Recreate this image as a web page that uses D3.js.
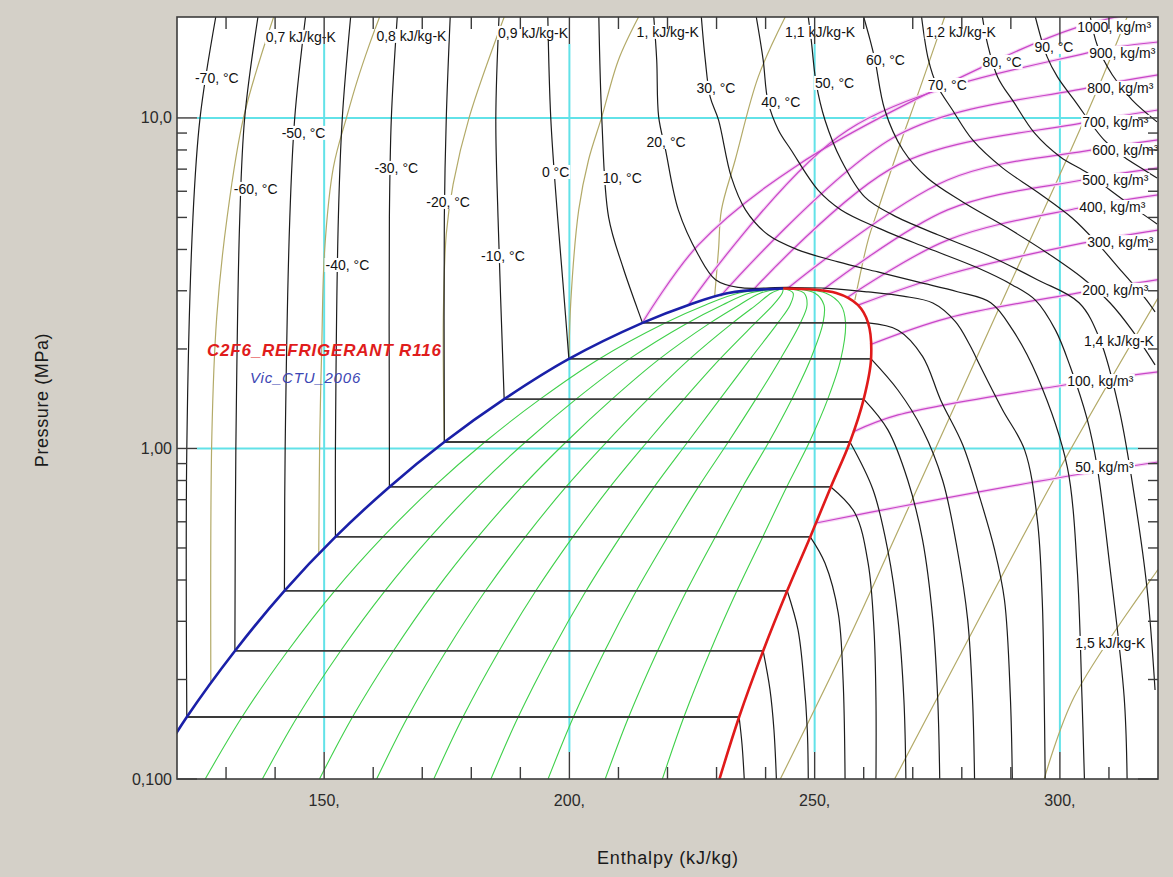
<!DOCTYPE html>
<html>
<head>
<meta charset="utf-8">
<script src="https://cdn.jsdelivr.net/npm/d3@7"></script>
<style>
  body { margin: 0; background: #ffffff; }
  svg { display: block; font-family: Arial, "Liberation Sans", sans-serif; }
</style>
</head>
<body>
<svg id="chart" width="1173" height="877"></svg>
<script>
// ---------- axes ----------
const hDomain = [120, 320];          // enthalpy, kJ/kg
const pDomain = [0.1, 20.2];         // pressure, MPa (log)
const xTicks = [150, 200, 250, 300];
const xTickLabels = ["150,", "200,", "250,", "300,"];
const xMinorTicks = [130, 140, 160, 170, 180, 190, 210, 220, 230, 240, 260, 270, 280, 290, 310];
const yTicks = [0.1, 1, 10];
const yTickLabels = ["0,100", "1,00", "10,0"];
const yMinorTicks = [0.2, 0.3, 0.4, 0.5, 0.6, 0.7, 0.8, 0.9, 2, 3, 4, 5, 6, 7, 8, 9];

// ---------- saturation dome ----------
const domeP  = [0.1, 0.154, 0.244, 0.371, 0.540, 0.765, 1.046, 1.41, 1.866, 2.398, 2.718, 2.954, 3.048];
const domeHL = [114.1, 122.0, 131.8, 141.9, 152.3, 163.3, 174.5, 186.7, 199.9, 214.9, 224.3, 232.4, 243.6];
const domeHV = [230.6, 234.6, 239.5, 244.4, 249.1, 253.3, 257.2, 260.0, 261.5, 260.9, 258.8, 254.4, 243.6];
const qualities = [0.1, 0.2, 0.3, 0.4, 0.5, 0.6, 0.7, 0.8, 0.9];

// ---------- isotherms below the critical temperature ----------
const tieT  = [-70, -60, -50, -40, -30, -20, -10, 0, 10];
const tieP  = [0.154, 0.244, 0.371, 0.540, 0.765, 1.046, 1.41, 1.866, 2.398];
const tieHL = [122.0, 131.8, 141.9, 152.3, 163.3, 174.5, 186.7, 199.9, 214.9];
const tieHV = [234.6, 239.5, 244.4, 249.1, 253.3, 257.2, 260.0, 261.5, 260.9];

const liquidBranch = [
  [[122.0, 0.154], [122.0, 1], [123.25, 5], [124.7, 10], [127.9, 20.2]],
  [[131.8, 0.244], [132.0, 1], [132.8, 5], [133.8, 10], [136.5, 20.2]],
  [[141.9, 0.371], [142.05, 1], [143.0, 5], [144.0, 10], [146.2, 20.2]],
  [[152.3, 0.540], [152.3, 1], [152.9, 5], [153.7, 10], [155.4, 20.2]],
  [[163.3, 0.765], [163.3, 1], [163.3, 5], [163.7, 10], [164.9, 20.2]],
  [[174.5, 1.046], [174.5, 5], [174.9, 10], [175.7, 20.2]],
  [[186.7, 1.41], [185.45, 5], [185.0, 10], [185.65, 20.2]],
  [[199.9, 1.866], [198.7, 3.15], [197.6, 5], [196.2, 10], [195.6, 20.2]],
  [[214.9, 2.398], [213.5, 2.74], [210.9, 3.54], [208.0, 5], [206.6, 10], [206.0, 20.2]]
];

const vaporBranch = [
  [[234.6, 0.154], [235.2, 0.127], [235.65, 0.1]],
  [[239.5, 0.244], [240.9, 0.186], [241.7, 0.141], [242.2, 0.1]],
  [[244.4, 0.371], [246.6, 0.283], [247.8, 0.199], [248.5, 0.141], [248.7, 0.1]],
  [[249.1, 0.540], [252.1, 0.450], [254.8, 0.318], [255.8, 0.199], [256.2, 0.1]],
  [[253.3, 0.765], [258.2, 0.638], [260.9, 0.45], [262.1, 0.283], [262.5, 0.173], [262.5, 0.1]],
  [[257.2, 1.046], [261.9, 0.75], [264.9, 0.493], [267.0, 0.303], [268.2, 0.173], [268.6, 0.1]],
  [[260.0, 1.41], [264.9, 1.14], [269.0, 0.80], [272.0, 0.529], [274.1, 0.303], [275.1, 0.173], [275.5, 0.1]],
  [[261.5, 1.866], [267.0, 1.50], [272.0, 1.14], [276.1, 0.80], [279.1, 0.493], [281.2, 0.303], [282.2, 0.173], [282.6, 0.1]],
  [[260.9, 2.398], [267.0, 2.28], [272.0, 1.90], [275.7, 1.40], [280.2, 1.025], [283.8, 0.70], [286.7, 0.493], [288.7, 0.348], [289.9, 0.177], [290.3, 0.1]]
];

// ---------- isotherms above the critical temperature ----------
const superT = [20, 30, 40, 50, 60, 70, 80, 90, 100];
const superBranch = [
  [[217.2, 20.2], [217.8, 14.98], [218.2, 10.07], [219.6, 8.0], [222.2, 5.27], [226.3, 3.85], [229.8, 3.24],
   [234.4, 3.07], [244.6, 3.07], [252.7, 3.05], [260.9, 2.975], [268.0, 2.89], [274.1, 2.755], [278.7, 2.42],
   [281.6, 2.06], [283.8, 1.77], [288.3, 1.31], [292.8, 0.99], [295.4, 0.608], [296.4, 0.348], [296.8, 0.177], [297.0, 0.1]],
  [[226.9, 20.2], [227.7, 14.98], [228.7, 11.58], [230.4, 9.86], [233.0, 6.63], [235.9, 5.27], [240.5, 4.43],
   [246.6, 3.99], [254.8, 3.667], [262.9, 3.42], [271.0, 3.19], [279.1, 2.98], [285.9, 2.76], [290.4, 2.28],
   [295.4, 1.65], [301.5, 0.88], [303.5, 0.438], [304.5, 0.177], [305.0, 0.1]],
  [[238.1, 20.2], [239.5, 14.98], [240.5, 11.18], [242.6, 9.2], [245.2, 8.0], [250.7, 6.05], [255.4, 5.27],
   [262.9, 4.65], [273.0, 4.04], [283.2, 3.52], [290.3, 3.125], [295.0, 2.81], [299.1, 2.28], [302.1, 1.77],
   [305.6, 1.22], [307.6, 0.88], [310.2, 0.438], [313.1, 0.177], [313.7, 0.1]],
  [[248.7, 20.2], [249.3, 17.22], [250.3, 12.76], [252.1, 9.86], [255.4, 7.46], [260.2, 5.77], [265.9, 5.09],
   [275.1, 4.43], [285.2, 3.85], [295.4, 3.24], [303.9, 2.76], [308.2, 2.13], [312.1, 1.31], [315.3, 0.70],
   [317.8, 0.373], [319.4, 0.186]],
  [[260.0, 20.2], [261.3, 17.22], [262.3, 14.98], [264.3, 10.57], [268.0, 8.0], [273.0, 6.58], [280.2, 5.57],
   [289.3, 4.65], [297.4, 3.905], [304.6, 3.28], [310.2, 2.76], [314.7, 2.28], [319.4, 1.79]],
  [[271.8, 20.2], [273.2, 14.98], [274.9, 12.58], [278.1, 10.57], [282.2, 8.58], [288.3, 7.06], [295.4, 5.97],
   [302.5, 4.98], [307.6, 4.18], [312.7, 3.42], [317.2, 2.87], [319.4, 2.59]],
  [[284.2, 20.2], [285.2, 16.86], [287.3, 13.31], [290.7, 11.10], [294.8, 9.01], [300.1, 7.62], [305.6, 6.82],
   [310.2, 6.05], [315.7, 5.27], [319.8, 4.78]],
  [[295.0, 20.2], [297.4, 15.30], [299.5, 13.31], [302.9, 11.34], [309.0, 8.58], [313.1, 7.62], [317.2, 6.96],
   [319.8, 6.58]],
  [[306.2, 20.2], [307.6, 16.63], [310.7, 13.49], [314.7, 11.34], [319.8, 9.73]]
];

// ---------- isentropes, kJ/kg-K ----------
const entropyS = [0.7, 0.8, 0.9, 1.0, 1.1, 1.2, 1.3, 1.4, 1.5];
const entropyLines = [
  [[126.9, 0.195], [127.1, 1.083], [128.1, 2.50], [130.2, 4.98], [133.6, 10.07], [139.7, 20.2]],
  [[148.9, 0.476], [149.1, 1.083], [149.5, 1.99], [150.1, 3.99], [151.9, 7.11], [154.6, 10.07], [156.8, 13.03], [159.2, 16.63], [161.3, 20.2]],
  [[174.5, 1.046], [174.3, 2.50], [174.9, 4.46], [176.3, 6.31], [179.6, 10.07], [186.7, 20.2]],
  [[199.9, 1.89], [200.3, 2.81], [201.9, 5.27], [203.9, 7.46], [206.6, 10.07], [210.0, 14.98], [214.1, 20.2]],
  [[229.6, 2.873], [230.4, 3.99], [231.0, 5.27], [233.8, 7.46], [238.5, 13.31], [244.0, 20.2]],
  [[258.2, 2.81], [260.9, 4.27], [262.9, 5.27], [267.0, 8.0], [271.0, 11.74], [275.1, 17.59], [276.5, 20.2]],
  [[243.0, 0.1], [256.8, 0.263], [268.0, 0.608], [279.1, 1.40], [289.3, 3.02], [299.5, 6.49], [307.6, 12.15], [313.7, 20.2]],
  [[266.3, 0.1], [275.1, 0.177], [299.5, 0.843], [320.0, 2.85]],
  [[296.8, 0.1], [302.9, 0.177], [320.0, 0.43]]
];

// ---------- isochores, kg/m3 ----------
const densityRho = [50, 100, 200, 300, 400, 500, 600, 700, 800, 900, 1000];
const densityLines = [
  [[250.3, 0.595], [267.0, 0.665], [299.5, 0.814], [320.0, 0.91]],
  [[257.8, 1.122], [267.0, 1.263], [300.9, 1.556], [320.0, 1.704]],
  [[261.3, 2.06], [277.1, 2.48], [303.5, 2.95], [320.0, 3.24]],
  [[259.0, 2.72], [277.1, 3.36], [304.6, 4.18], [320.0, 4.58]],
  [[256.8, 2.87], [277.1, 4.27], [303.9, 5.34], [320.0, 5.85]],
  [[251.7, 3.02], [277.1, 5.27], [304.6, 6.49], [320.0, 7.06]],
  [[244.6, 3.06], [277.1, 6.49], [306.6, 8.0], [320.0, 8.58]],
  [[237.5, 3.02], [267.0, 7.21], [304.6, 9.66], [320.0, 10.57]],
  [[230.8, 2.89], [267.0, 8.88], [305.6, 12.33], [320.0, 13.49]],
  [[224.3, 2.72], [256.8, 9.2], [305.6, 15.73], [320.0, 16.97]],
  [[215.1, 2.43], [226.3, 4.13], [246.6, 7.21], [287.3, 14.98], [303.5, 18.8], [320.0, 21.5]]
];

// ---------- line labels: text, enthalpy, pressure at the left-middle of the text ----------
const temperatureLabels = [
  ["-70, °C", 123.66, 13.21], ["-60, °C", 131.59, 6.10], ["-50, °C", 141.34, 9.01],
  ["-40, °C", 150.28, 3.59], ["-30, °C", 160.24, 7.06], ["-20, °C", 170.81, 5.57],
  ["-10, °C", 181.99, 3.82], ["0 °C", 194.39, 6.86], ["10, °C", 206.79, 6.58],
  ["20, °C", 215.73, 8.46], ["30, °C", 225.89, 12.33], ["40, °C", 239.11, 11.18],
  ["50, °C", 250.08, 12.76], ["60, °C", 260.45, 14.98], ["70, °C", 273.05, 12.58],
  ["80, °C", 284.23, 14.77], ["90, °C", 294.8, 16.40]
];
const entropyLabels = [
  ["0,7 kJ/kg-K", 138.09, 17.59], ["0,8 kJ/kg-K", 160.65, 17.71], ["0,9 kJ/kg-K", 185.45, 18.08],
  ["1, kJ/kg-K", 213.7, 18.21], ["1,1 kJ/kg-K", 243.98, 18.21], ["1,2 kJ/kg-K", 272.64, 18.21],
  ["1,4 kJ/kg-K", 304.9, 2.115], ["1,5 kJ/kg-K", 303.13, 0.258]
];
const densityLabels = [
  ["1000, kg/m³", 303.54, 18.85], ["900, kg/m³", 305.98, 15.73], ["800, kg/m³", 305.57, 12.33],
  ["700, kg/m³", 304.55, 9.73], ["600, kg/m³", 306.59, 8.0], ["500, kg/m³", 304.55, 6.49],
  ["400, kg/m³", 303.94, 5.38], ["300, kg/m³", 305.57, 4.21], ["200, kg/m³", 304.55, 3.02],
  ["100, kg/m³", 301.5, 1.60], ["50, kg/m³", 303.13, 0.879]
];

const chartTitle = "C2F6_REFRIGERANT R116";
const chartAuthor = "Vic_CTU_2006";

// ================= drawing =================
const W = 1173, H = 877;
const plot = { left: 177, top: 17, right: 1158, bottom: 779 };
const svg = d3.select("#chart");

svg.append("rect").attr("x", 0).attr("y", 0).attr("width", W).attr("height", H).attr("fill", "#d4d0c8");

const x = d3.scaleLinear().domain(hDomain).range([plot.left, plot.right]);
const y = d3.scaleLog().domain(pDomain).range([plot.bottom, plot.top]);

svg.append("defs").append("clipPath").attr("id", "plotClip")
  .append("rect").attr("x", plot.left).attr("y", plot.top)
  .attr("width", plot.right - plot.left).attr("height", plot.bottom - plot.top);

svg.append("rect").attr("x", plot.left).attr("y", plot.top)
  .attr("width", plot.right - plot.left).attr("height", plot.bottom - plot.top)
  .attr("fill", "#ffffff");

const g = svg.append("g").attr("clip-path", "url(#plotClip)");

// grid
const majorLen = 27;
xTicks.forEach(v => {
  g.append("line").attr("x1", x(v)).attr("x2", x(v))
    .attr("y1", plot.top + majorLen).attr("y2", plot.bottom - majorLen)
    .attr("stroke", "#62e2e8").attr("stroke-width", 2);
});
yTicks.filter(v => v > pDomain[0]).forEach(v => {
  g.append("line").attr("y1", y(v)).attr("y2", y(v))
    .attr("x1", plot.left + 20).attr("x2", plot.right - 20)
    .attr("stroke", "#62e2e8").attr("stroke-width", 2);
});

const curve = d3.line().x(d => x(d[0])).y(d => y(d[1])).curve(d3.curveCatmullRom.alpha(0.5));

// quality lines inside the dome
qualities.forEach(q => {
  const pts = domeP.map((p, i) => [domeHL[i] + q * (domeHV[i] - domeHL[i]), p]);
  g.append("path").attr("d", curve(pts)).attr("fill", "none")
    .attr("stroke", "#3fd04a").attr("stroke-width", 1.1);
});

// isentropes
entropyLines.forEach(pts => {
  g.append("path").attr("d", curve(pts)).attr("fill", "none")
    .attr("stroke", "#b3aa68").attr("stroke-width", 1.2);
});

// isochores (soft halo then line)
densityLines.forEach(pts => {
  g.append("path").attr("d", curve(pts)).attr("fill", "none")
    .attr("stroke", "#f7d6f5").attr("stroke-width", 3.5);
});
densityLines.forEach(pts => {
  g.append("path").attr("d", curve(pts)).attr("fill", "none")
    .attr("stroke", "#c846c8").attr("stroke-width", 1.2);
});

// isotherms
const isoStyle = sel => sel.attr("fill", "none").attr("stroke", "#1c1c1c").attr("stroke-width", 1.2);
liquidBranch.forEach(pts => g.append("path").attr("d", curve(pts)).call(isoStyle));
vaporBranch.forEach(pts => g.append("path").attr("d", curve(pts)).call(isoStyle));
superBranch.forEach(pts => g.append("path").attr("d", curve(pts)).call(isoStyle));
tieT.forEach((t, i) => {
  g.append("line").attr("x1", x(tieHL[i])).attr("x2", x(tieHV[i]))
    .attr("y1", y(tieP[i])).attr("y2", y(tieP[i]))
    .attr("stroke", "#3a3a3a").attr("stroke-width", 1.8);
});

// saturation curves
g.append("path").attr("d", curve(domeP.map((p, i) => [domeHL[i], p])))
  .attr("fill", "none").attr("stroke", "#1a20a8").attr("stroke-width", 2.6);
g.append("path").attr("d", curve(domeP.map((p, i) => [domeHV[i], p])))
  .attr("fill", "none").attr("stroke", "#e01a1a").attr("stroke-width", 2.6);

// labels with white boxes
function boxedLabel(parent, text, h, p) {
  const grp = parent.append("g");
  const t = grp.append("text").attr("x", x(h)).attr("y", y(p))
    .attr("dominant-baseline", "central")
    .attr("font-size", 14).attr("fill", "#111").text(text);
  const bb = t.node().getBBox();
  grp.insert("rect", "text").attr("x", bb.x - 1).attr("y", bb.y + 1)
    .attr("width", bb.width + 2).attr("height", bb.height - 2).attr("fill", "#ffffff");
}
const lab = svg.append("g").attr("clip-path", "url(#plotClip)");
temperatureLabels.forEach(d => boxedLabel(lab, d[0], d[1], d[2]));
entropyLabels.forEach(d => boxedLabel(lab, d[0], d[1], d[2]));
densityLabels.forEach(d => boxedLabel(lab, d[0], d[1], d[2]));

// title text inside the plot
svg.append("text").attr("x", 207).attr("y", 356)
  .attr("font-size", 17).attr("font-weight", "bold").attr("font-style", "italic")
  .attr("letter-spacing", 0.8).attr("fill", "#e01c1c").text(chartTitle);
svg.append("text").attr("x", 250).attr("y", 383)
  .attr("font-size", 15).attr("font-style", "italic").attr("letter-spacing", 0.8)
  .attr("fill", "#3c46b4").text(chartAuthor);

// frame
svg.append("rect").attr("x", plot.left).attr("y", plot.top)
  .attr("width", plot.right - plot.left).attr("height", plot.bottom - plot.top)
  .attr("fill", "none").attr("stroke", "#3c3c3c").attr("stroke-width", 1.6);

// ticks on all four sides, pointing inward
const tk = svg.append("g").attr("stroke", "#3c3c3c").attr("stroke-width", 1.4);
xTicks.forEach(v => {
  tk.append("line").attr("x1", x(v)).attr("x2", x(v)).attr("y1", plot.bottom).attr("y2", plot.bottom - majorLen);
  tk.append("line").attr("x1", x(v)).attr("x2", x(v)).attr("y1", plot.top).attr("y2", plot.top + majorLen);
});
xMinorTicks.forEach(v => {
  tk.append("line").attr("x1", x(v)).attr("x2", x(v)).attr("y1", plot.bottom).attr("y2", plot.bottom - 12);
  tk.append("line").attr("x1", x(v)).attr("x2", x(v)).attr("y1", plot.top).attr("y2", plot.top + 12);
});
yTicks.forEach(v => {
  tk.append("line").attr("y1", y(v)).attr("y2", y(v)).attr("x1", plot.left).attr("x2", plot.left + 20);
  tk.append("line").attr("y1", y(v)).attr("y2", y(v)).attr("x1", plot.right).attr("x2", plot.right - 20);
});
yMinorTicks.forEach(v => {
  tk.append("line").attr("y1", y(v)).attr("y2", y(v)).attr("x1", plot.left).attr("x2", plot.left + 10);
  tk.append("line").attr("y1", y(v)).attr("y2", y(v)).attr("x1", plot.right).attr("x2", plot.right - 10);
});

// tick labels
xTicks.forEach((v, i) => {
  svg.append("text").attr("x", x(v)).attr("y", plot.bottom + 21)
    .attr("dominant-baseline", "central").attr("text-anchor", "middle")
    .attr("font-size", 16).attr("fill", "#2a2a2a").text(xTickLabels[i]);
});
yTicks.forEach((v, i) => {
  svg.append("text").attr("x", plot.left - 5).attr("y", y(v))
    .attr("dominant-baseline", "central").attr("text-anchor", "end")
    .attr("font-size", 16).attr("fill", "#2a2a2a").text(yTickLabels[i]);
});

// axis titles
svg.append("text").attr("x", 668).attr("y", 858)
  .attr("dominant-baseline", "central").attr("text-anchor", "middle")
  .attr("font-size", 18).attr("letter-spacing", 0.8).attr("fill", "#1a1a1a").text("Enthalpy (kJ/kg)");
svg.append("text").attr("transform", "translate(42,400) rotate(-90)")
  .attr("dominant-baseline", "central").attr("text-anchor", "middle")
  .attr("font-size", 18).attr("letter-spacing", 0.6).attr("fill", "#1a1a1a").text("Pressure (MPa)");
</script>
</body>
</html>
